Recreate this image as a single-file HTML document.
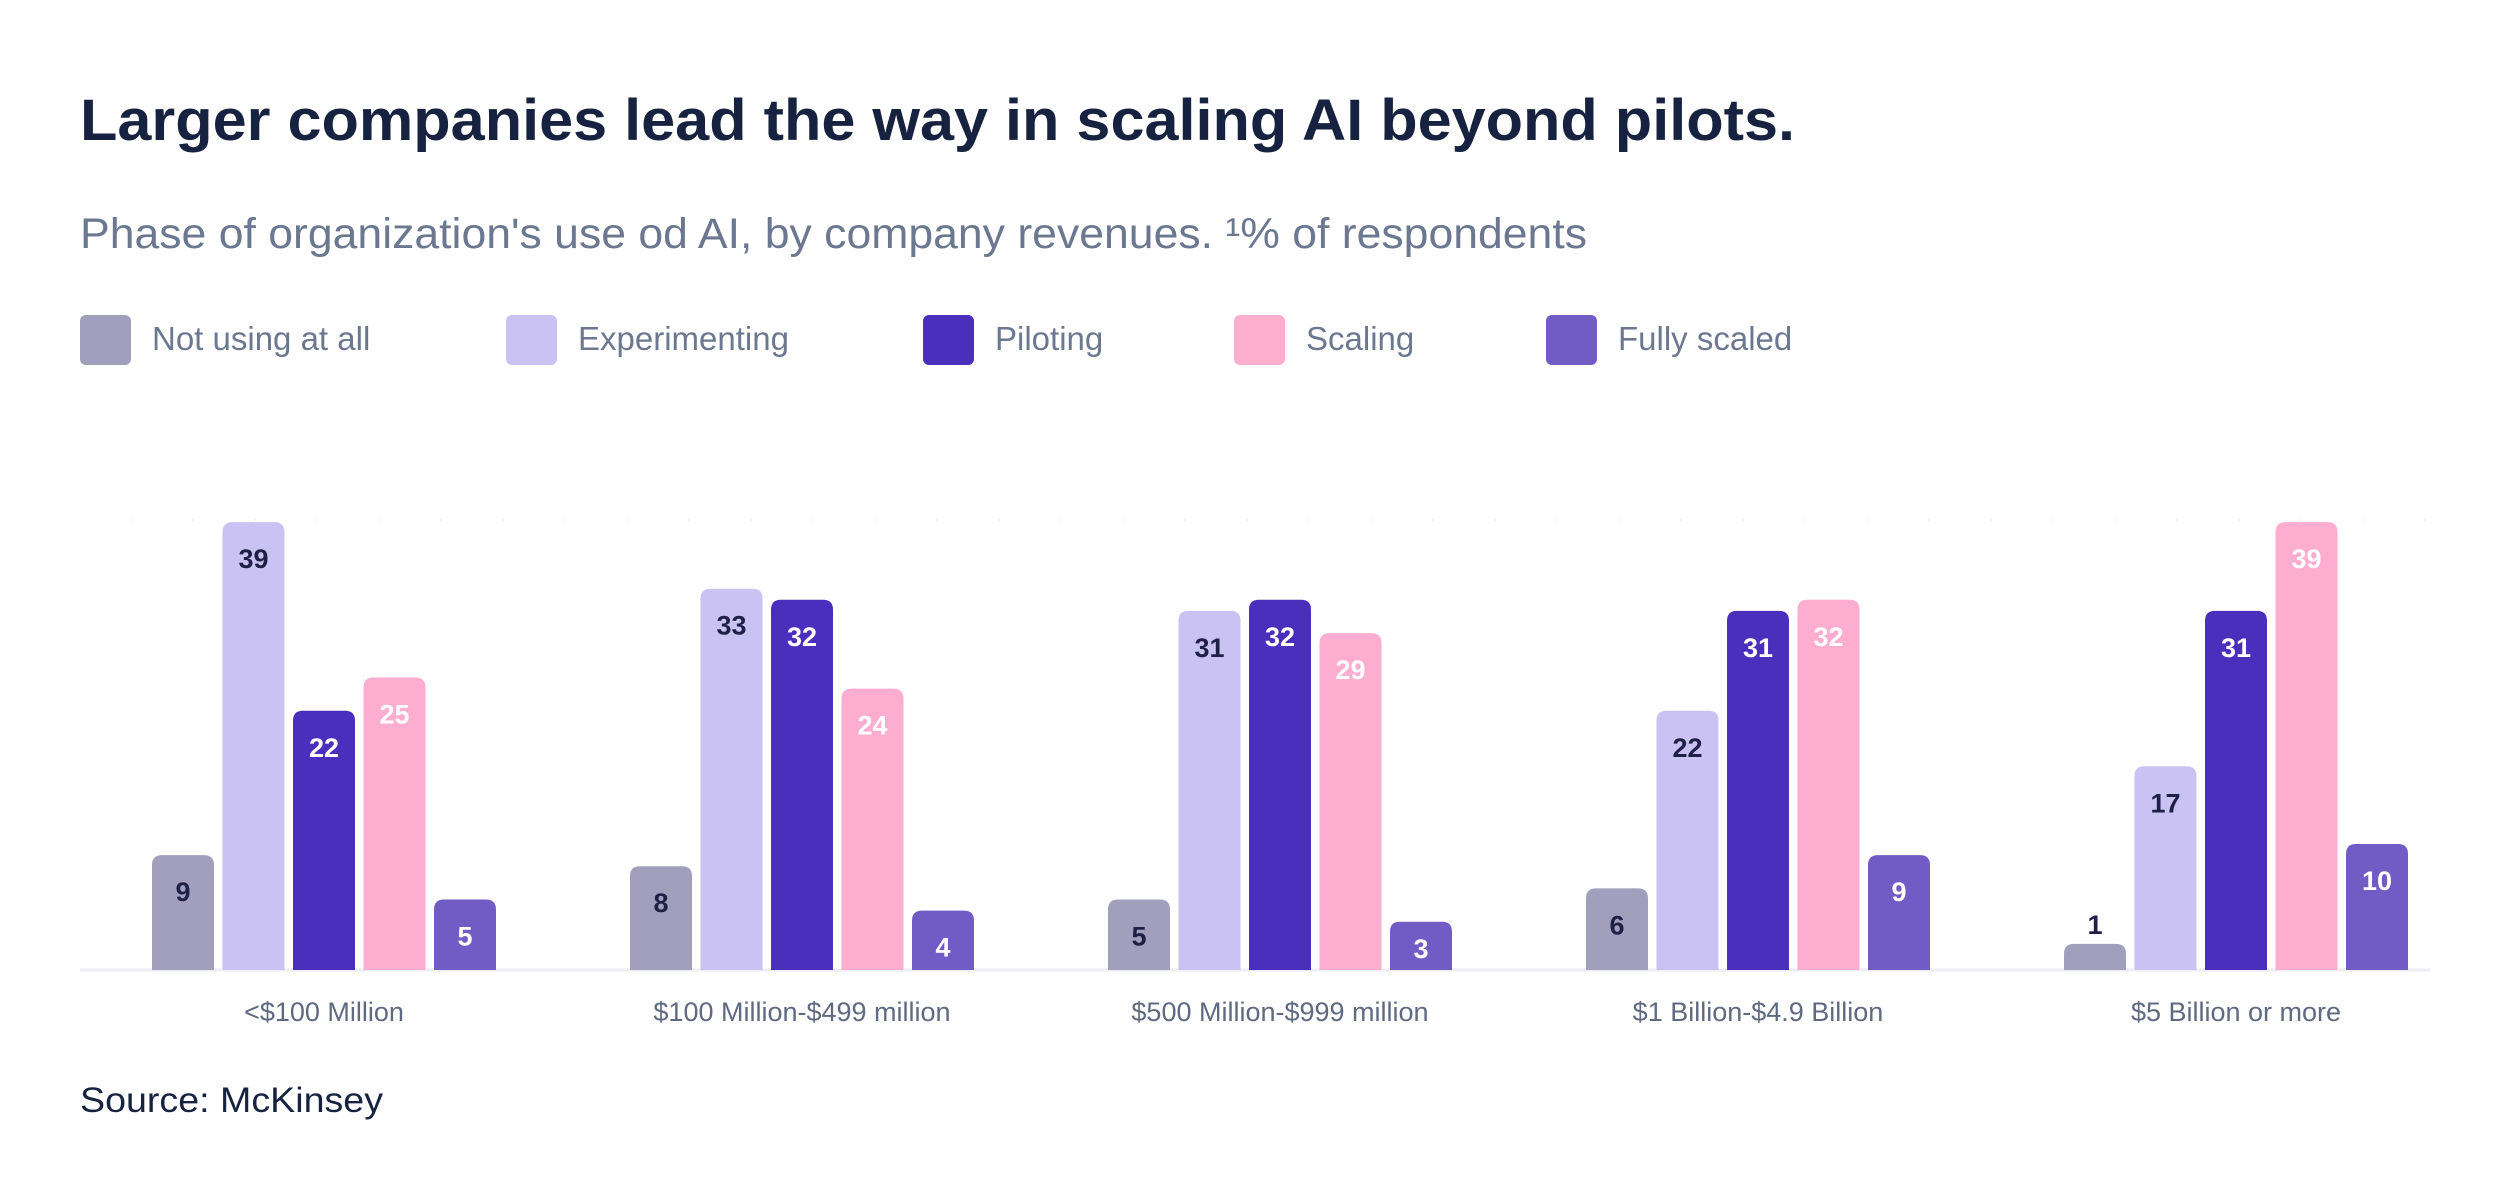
<!DOCTYPE html>
<html><head><meta charset="utf-8"><style>
html,body{margin:0;padding:0;background:#fff;}
svg{display:block;}
</style></head><body>
<svg id="chart" width="2496" height="1200" viewBox="0 0 2496 1200" xmlns="http://www.w3.org/2000/svg" font-family="Liberation Sans, sans-serif">
<text x="80" y="140" font-size="58" font-weight="bold" fill="#16223f" textLength="1715" lengthAdjust="spacingAndGlyphs">Larger companies lead the way in scaling AI beyond pilots.</text>
<text x="80" y="248" font-size="43" fill="#6b7890" textLength="1507" lengthAdjust="spacingAndGlyphs">Phase of organization's use od AI, by company revenues. ¹% of respondents</text>
<g id="legend"></g>
<line x1="130" x2="2430" y1="520" y2="520" stroke="#f4f4f8" stroke-width="2" stroke-dasharray="2 60"/>
<line x1="80" x2="2430" y1="970" y2="970" stroke="#eceef3" stroke-width="3"/>
<g id="bars"></g>
<g id="xlabels"></g>
<text x="80" y="1112" font-size="35" fill="#16223f" textLength="303" lengthAdjust="spacingAndGlyphs">Source: McKinsey</text>
</svg>
<script>
const categories = ["<$100 Million", "$100 Million-$499 million", "$500 Million-$999 million", "$1 Billion-$4.9 Billion", "$5 Billion or more"];
const seriesNames = ["Not using at all", "Experimenting", "Piloting", "Scaling", "Fully scaled"];
const notUsing = [9, 8, 5, 6, 1];
const experimenting = [39, 33, 31, 22, 17];
const piloting = [22, 32, 32, 31, 31];
const scaling = [25, 24, 29, 32, 39];
const fullyScaled = [5, 4, 3, 9, 10];

const series = [notUsing, experimenting, piloting, scaling, fullyScaled];
const colors = ["#a29fbd", "#c9c2f2", "#4a2fbd", "#fdaed0", "#705cc4"];
const labelColors = ["#1e2145", "#1e2145", "#ffffff", "#ffffff", "#ffffff"];
const legendX = [80, 506, 923, 1234, 1546];
const NS = "http://www.w3.org/2000/svg";
const baseY = 970;
function yScale(v){ return 15 + 11.1 * v; }
function groupX(i){ return 152 + i * 478; }
function barX(i, s){ return groupX(i) + s * 70.5; }
const barW = 62;

const legend = document.getElementById('legend');
seriesNames.forEach((name, s) => {
  const r = document.createElementNS(NS, 'rect');
  r.setAttribute('x', legendX[s]); r.setAttribute('y', 315);
  r.setAttribute('width', 51); r.setAttribute('height', 50); r.setAttribute('rx', 6);
  r.setAttribute('fill', colors[s]);
  
  
  legend.appendChild(r);
  const t = document.createElementNS(NS, 'text');
  t.setAttribute('x', legendX[s] + 72); t.setAttribute('y', 350);
  t.setAttribute('font-size', 33); t.setAttribute('fill', '#6b7890');
  t.textContent = name;
  
  
  legend.appendChild(t);
});

const bars = document.getElementById('bars');
categories.forEach((cat, i) => {
  series.forEach((arr, s) => {
    const v = arr[i];
    const h = yScale(v);
    const x = barX(i, s);
    const p = document.createElementNS(NS, 'path');
    const r = 10, y = baseY - h;
    p.setAttribute('d', `M${x},${baseY} V${y+r} Q${x},${y} ${x+r},${y} H${x+barW-r} Q${x+barW},${y} ${x+barW},${y+r} V${baseY} Z`);
    p.setAttribute('fill', colors[s]);
    
    
    bars.appendChild(p);
    const t = document.createElementNS(NS, 'text');
    const inside = h > 40;
    t.setAttribute('x', x + barW / 2);
    t.setAttribute('y', inside ? Math.min(y + 46, baseY - 12) : y - 10);
    t.setAttribute('text-anchor', 'middle');
    t.setAttribute('font-size', 27); t.setAttribute('font-weight', 'bold');
    t.setAttribute('fill', inside ? labelColors[s] : '#1e2145');
    t.textContent = v;
    
    
    bars.appendChild(t);
  });
  const lt = document.createElementNS(NS, 'text');
  lt.setAttribute('x', groupX(i) + (4 * 70.5 + barW) / 2);
  lt.setAttribute('y', 1021);
  lt.setAttribute('text-anchor', 'middle');
  lt.setAttribute('font-size', 27);
  lt.setAttribute('fill', '#5f6a80');
  lt.textContent = cat;
  
  
  document.getElementById('xlabels').appendChild(lt);
});
</script>
</body></html>
